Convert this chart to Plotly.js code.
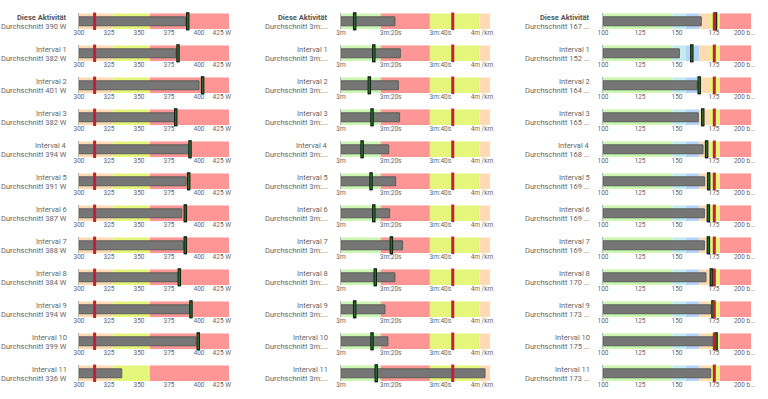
<!DOCTYPE html>
<html><head><meta charset="utf-8">
<script src="https://cdn.plot.ly/plotly-3.0.1.min.js"></script>
<style>html,body{margin:0;padding:0;background:#fff}#chart{width:768px;height:399px}</style>
</head><body><div id="chart"></div>
<script>
// ---- data ----
const rowTitles = ["Diese Aktivität","Interval 1","Interval 2","Interval 3","Interval 4","Interval 5","Interval 6","Interval 7","Interval 8","Interval 9","Interval 10","Interval 11"];

// power (W)
const powerSubtitles = ["Durchschnitt 390 W","Durchschnitt 382 W","Durchschnitt 401 W","Durchschnitt 382 W","Durchschnitt 394 W","Durchschnitt 391 W","Durchschnitt 387 W","Durchschnitt 388 W","Durchschnitt 384 W","Durchschnitt 394 W","Durchschnitt 399 W","Durchschnitt 336 W"];
const powerBars = [388.9,380.8,400,380,391.9,389.2,385.6,387,382.8,392.5,397.5,335.6];
const powerMarkers = [390.6,382.5,403,380.6,392.5,391.4,388.6,388.6,383.6,393.3,399.4,null];
const powerTarget = 313;
const powerBands = [300,328,359,425];
const powerBandColors = ["#FFDAB2","#E5F77A","#FF9696"];
const powerTickVals = [300,325,350,375,400,425];
const powerTickText = ["300","325","350","375","400","425 W"];

// pace (seconds per km)
const paceSubtitles = ["Durchschnitt 3m:...","Durchschnitt 3m:...","Durchschnitt 3m:...","Durchschnitt 3m:...","Durchschnitt 3m:...","Durchschnitt 3m:...","Durchschnitt 3m:...","Durchschnitt 3m:...","Durchschnitt 3m:...","Durchschnitt 3m:...","Durchschnitt 3m:...","Durchschnitt 3m:..."];
const paceBars = [201.7,203.9,203.1,203.6,199.2,202,199.6,204.8,201.7,197.7,198.9,238];
const paceMarkers = [185.5,193.2,191.4,192.5,188.5,192.1,193.2,200.3,193.8,185.5,192.5,194.2];
const paceTarget = 225;
const paceBands = [180,196,215.8,235.8,240];
const paceBandColors = ["#CBF7B2","#FF9696","#E5F77A","#FFDAB2"];
const paceTickVals = [180,200,220,240];
const paceTickText = ["3m","3m:20s","3m:40s","4m /km"];

// heart rate (bpm)
const hrSubtitles = ["Durchschnitt 167 ...","Durchschnitt 152 ...","Durchschnitt 164 ...","Durchschnitt 165 ...","Durchschnitt 168 ...","Durchschnitt 169 ...","Durchschnitt 169 ...","Durchschnitt 169 ...","Durchschnitt 170 ...","Durchschnitt 173 ...","Durchschnitt 175 ...","Durchschnitt 173 ..."];
const hrBars = [166.4,151.6,163.7,164.4,167.6,168.7,168.5,168.5,169.6,172.8,174.5,172.8];
const hrMarkers = [176,160,165,167.4,170,171.4,171.2,171.2,173.2,174.3,176.4,null];
const hrTarget = 175.2;
const hrBands = [100,146.8,156,165,172.3,179,200];
const hrBandColors = ["#CBF7B2","#C4ECEC","#B7D3F8","#FFDAB2","#E5F77A","#FF9696"];
const hrTickVals = [100,125,150,175,200];
const hrTickText = ["100","125","150","175","200 b..."];

// ---- layout geometry ----
const W = 768, H = 399;
const firstTop = 13.3, pitch = 32, bandH = 16;
const columns = [
  {left:79, right:229, labelRight:68.5, bands:powerBands, colors:powerBandColors, bars:powerBars, markers:powerMarkers, target:powerTarget, tv:powerTickVals, tt:powerTickText, pad:9, subs:powerSubtitles},
  {left:341, right:490, labelRight:329.5, bands:paceBands, colors:paceBandColors, bars:paceBars, markers:paceMarkers, target:paceTarget, tv:paceTickVals, tt:paceTickText, pad:10, subs:paceSubtitles},
  {left:603, right:751, labelRight:591.5, bands:hrBands, colors:hrBandColors, bars:hrBars, markers:hrMarkers, target:hrTarget, tv:hrTickVals, tt:hrTickText, pad:8, subs:hrSubtitles}
];

const traces = [];
const layout = {
  width: W, height: H,
  margin: {l:0, r:0, t:0, b:0},
  paper_bgcolor: '#fff', plot_bgcolor: 'rgba(0,0,0,0)',
  barmode: 'overlay', showlegend: false, hovermode: false,
  font: {family: 'Roboto, Arial, sans-serif', color: '#666'},
  annotations: []
};

let k = 0;
for (let r = 0; r < rowTitles.length; r++) {
  const top = firstTop + r * pitch;
  columns.forEach((c) => {
    k++;
    const xa = 'x' + (k === 1 ? '' : k), ya = 'y' + (k === 1 ? '' : k);
    const mn = c.bands[0], mx = c.bands[c.bands.length - 1];
    const starts = c.bands.slice(0, -1);
    traces.push({type:'bar', orientation:'h', xaxis:xa, yaxis:ya,
      y: starts.map(() => 0), base: starts, x: starts.map((s, i) => c.bands[i + 1] - s),
      width: 1, marker: {color: c.colors, line: {width: 0}}, hoverinfo: 'skip'});
    traces.push({type:'bar', orientation:'h', xaxis:xa, yaxis:ya,
      y: [0], base: [mn], x: [c.bars[r] - mn], width: 0.56,
      marker: {color: '#767676', line: {color: '#5c5c5c', width: 1}}, hoverinfo: 'skip'});
    if (c.markers[r] !== null) {
      traces.push({type:'scatter', mode:'markers', xaxis:xa, yaxis:ya, x:[c.markers[r]], y:[0],
        marker: {symbol:'line-ns', size:13, line:{color:'#102010', width:3.5}}, hoverinfo:'skip', cliponaxis:false});
      traces.push({type:'scatter', mode:'markers', xaxis:xa, yaxis:ya, x:[c.markers[r]], y:[0],
        marker: {symbol:'line-ns', size:11, line:{color:'#2a6a30', width:1.5}}, hoverinfo:'skip', cliponaxis:false});
    }
    traces.push({type:'scatter', mode:'markers', xaxis:xa, yaxis:ya, x:[c.target], y:[0],
      marker: {symbol:'line-ns', size:12.5, line:{color:'#C41E3A', width:3}}, hoverinfo:'skip', cliponaxis:false});

    const tt = c.tt.slice();
    tt[tt.length - 1] = tt[tt.length - 1] + '&nbsp;'.repeat(c.pad);
    layout['xaxis' + (k === 1 ? '' : k)] = {
      domain: [c.left / W, c.right / W], range: [mn, mx], anchor: ya,
      showgrid: false, zeroline: false, showline: false, ticks: '', fixedrange: true,
      tickmode: 'array', tickvals: c.tv, ticktext: tt,
      ticklabeloverflow: 'allow', ticklabelstandoff: -2,
      tickfont: {size: 6.5, color: '#666', family: 'Roboto, Arial, sans-serif'}
    };
    layout['yaxis' + (k === 1 ? '' : k)] = {
      domain: [1 - (top + bandH) / H, 1 - top / H], range: [-0.5, 0.5], anchor: xa,
      showgrid: false, zeroline: false, showticklabels: false, ticks: '', fixedrange: true,
      showline: true, linecolor: '#b4b4b4', linewidth: 1
    };
    const isFirst = r === 0;
    layout.annotations.push({xref:'paper', yref:'paper', x: c.labelRight / W, y: 1 - (top + 4.3) / H,
      xanchor:'right', yanchor:'middle', showarrow:false,
      text: isFirst ? '<b>' + rowTitles[r] + '</b>' : rowTitles[r],
      font: {size: 7.5, color: isFirst ? '#555' : '#666'}});
    layout.annotations.push({xref:'paper', yref:'paper', x: c.labelRight / W, y: 1 - (top + 13.2) / H,
      xanchor:'right', yanchor:'middle', showarrow:false, text: c.subs[r],
      font: {size: 7.5, color: '#666'}});
  });
}

Plotly.newPlot('chart', traces, layout, {staticPlot: true, displayModeBar: false});
</script>
</body></html>
